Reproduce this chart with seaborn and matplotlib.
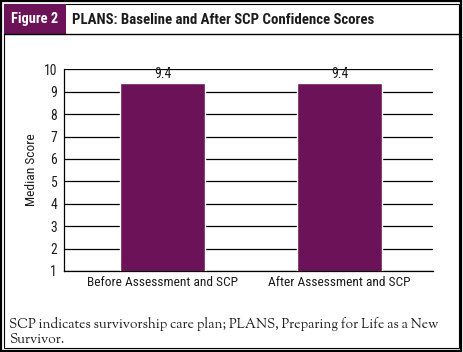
import matplotlib
matplotlib.use("Agg")
import matplotlib.pyplot as plt
import seaborn as sns
import pandas as pd
from matplotlib.patches import Rectangle
from matplotlib.lines import Line2D

categories = ["Before Assessment and SCP", "After Assessment and SCP"]
values = [9.4, 9.4]
yticks = [1, 2, 3, 4, 5, 6, 7, 8, 9, 10]

sns.set_theme(style="white")
plt.rcParams['font.family'] = ['Roboto Condensed', 'DejaVu Sans']
serif = ["Sorts Mill Goudy", "Liberation Serif", "DejaVu Serif"]

purple = "#6C1259"
ink = "#1c1c1c"
df = pd.DataFrame({"cat": categories, "val": values})

fig = plt.figure(figsize=(4.64, 3.52), dpi=100)
W, H = 464, 352
def fx(x): return x / W
def fy(y): return 1 - y / H

ax = fig.add_axes([fx(64), fy(271), fx(433) - fx(64), fy(69.3) - fy(271)])
sns.barplot(data=df, x="cat", y="val", color=purple, saturation=1, width=0.48, ax=ax, zorder=3)
ax.set_ylim(1, 10)
ax.set_xlim(-0.56, 1.53)
ax.set_yticks(yticks)
ax.set_yticklabels([str(t) for t in yticks], fontsize=9.8, color=ink)
ax.tick_params(axis='y', length=0, pad=5)
ax.tick_params(axis='x', length=0, pad=3.5, labelsize=9.6, labelcolor=ink)
ax.yaxis.grid(True, color="black", linewidth=0.9, zorder=0)
ax.set_axisbelow(True)
for s in ["top", "right"]:
    ax.spines[s].set_visible(False)
for s in ["left", "bottom"]:
    ax.spines[s].set_color("black")
    ax.spines[s].set_linewidth(0.9)
ax.set_xlabel("")
ax.set_ylabel("Median Score", fontsize=9.7, color=ink, labelpad=4)
for p, v in zip(ax.patches, values):
    ax.text(p.get_x() + p.get_width() / 2, v + 0.07, f"{v}", ha="center", va="bottom",
            fontsize=9.8, color=ink)

# Frame and header
fig.add_artist(Rectangle((fx(1), fy(350.5)), fx(461.5) - fx(1), fy(1) - fy(350.5),
                         transform=fig.transFigure, fill=False, edgecolor="black", linewidth=1.6))
fig.add_artist(Rectangle((fx(4), fy(347.5)), fx(459) - fx(4), fy(4) - fy(347.5),
                         transform=fig.transFigure, fill=False, edgecolor="black", linewidth=0.8))
fig.add_artist(Rectangle((fx(4), fy(34)), fx(66) - fx(4), fy(4) - fy(34),
                         transform=fig.transFigure, facecolor=purple, edgecolor="none"))
fig.add_artist(Line2D([fx(4), fx(459)], [fy(34), fy(34)], transform=fig.transFigure,
                      color="black", linewidth=1.0))
fig.text(fx(35), fy(19.5), "Figure 2", ha="center", va="center", color="white",
         fontsize=10.4, fontweight="bold")
fig.text(fx(72), fy(19.5), "PLANS: Baseline and After SCP Confidence Scores", ha="left",
         va="center", color=ink, fontsize=10.7, fontweight="bold")
fig.text(fx(9), fy(324), "SCP indicates survivorship care plan; PLANS, Preparing for Life as a New",
         ha="left", va="center", color=ink, fontsize=9.8, family=serif)
fig.text(fx(9), fy(339), "Survivor.",
         ha="left", va="center", color=ink, fontsize=9.8, family=serif)

fig.savefig("out.png", dpi=100)
